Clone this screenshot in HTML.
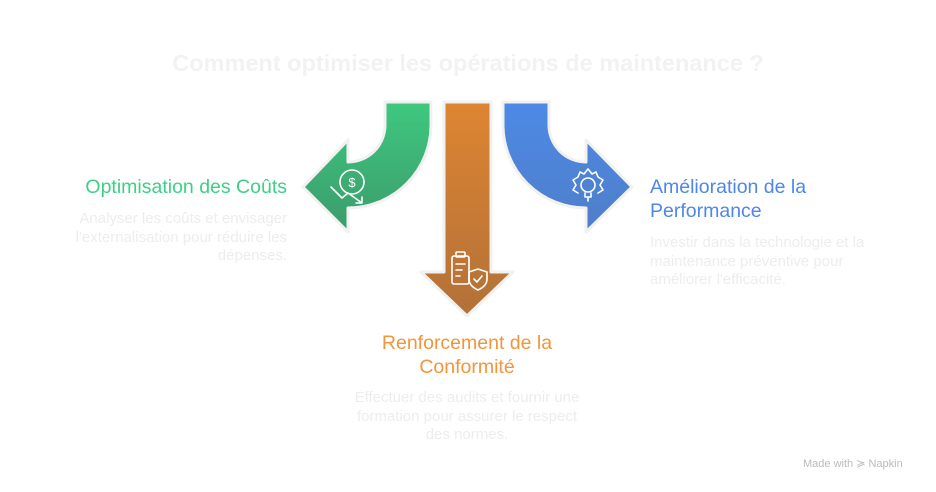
<!DOCTYPE html>
<html><head><meta charset="utf-8"><style>
html,body{margin:0;padding:0;background:#fff;}
body{width:936px;height:492px;position:relative;overflow:hidden;font-family:"Liberation Sans",sans-serif;}
.t{position:absolute;white-space:nowrap;}
.title{left:0;width:936px;top:50px;text-align:center;font-weight:bold;font-size:23.5px;color:#f2f2f2;}
.h{font-size:19.5px;line-height:24px;}
.d{font-size:15px;line-height:18.5px;color:#ededed;}
</style></head><body>
<svg width="936" height="492" style="position:absolute;left:0;top:0">
<defs>
<linearGradient id="g" x1="0" y1="0" x2="0" y2="1"><stop offset="0" stop-color="#3ec87f"/><stop offset="1" stop-color="#3c9b6c"/></linearGradient>
<linearGradient id="o" x1="0" y1="0" x2="0" y2="1"><stop offset="0" stop-color="#de8532"/><stop offset="1" stop-color="#b27138"/></linearGradient>
<linearGradient id="b" x1="0" y1="0" x2="0" y2="1"><stop offset="0" stop-color="#4d8ae6"/><stop offset="1" stop-color="#4e7ec9"/></linearGradient>
</defs>
<g stroke="#f1f1f1" stroke-width="3" stroke-linejoin="round">
<path d="M385,102 L431,102 L431,125 A83,83 0 0 1 348,208 L348,232 L303,187 L348,140 L348,162 A37,37 0 0 0 385,125 Z" fill="url(#g)"/>
<path d="M549,102 L503,102 L503,125 A83,83 0 0 0 586,208 L586,232 L632,187 L586,140 L586,162 A37,37 0 0 1 549,125 Z" fill="url(#b)"/>
<path d="M444,102 L491,102 L491,272 L513,272 L467,316 L421,272 L444,272 Z" fill="url(#o)"/>
</g>
<g fill="none" stroke="#fff" stroke-width="1.6" stroke-linecap="round" stroke-linejoin="round">
<circle cx="352" cy="182" r="12"/>
<text x="352" y="187" fill="#fff" stroke="none" font-size="13" text-anchor="middle" font-family="Liberation Sans">$</text>
<path d="M331,187 L342,198 L348,193 L362,203 M356,203 L362,203 L362,197"/>
<circle cx="588" cy="185" r="7"/>
<path d="M585,193 L585,197 L591,197 L591,193 M588,197 L588,201"/>
<path d="M580,172 L584,174 L588,169 L592,174 L596,172 L598,177 L603,180 L600,185 L603,190 L598,193 M578,193 L573,190 L576,185 L573,180 L578,177 L580,172"/>
<rect x="452" y="256" width="17" height="28" rx="2"/>
<rect x="456" y="252" width="9" height="5" rx="1"/>
<path d="M456,264 L465,264 M456,270 L462,270 M456,276 L460,276"/>
<path d="M469,272 L478,269 L487,272 L487,279 Q487,286 478,290 Q469,286 469,279 Z"/>
<path d="M474,279 L477,282 L482,276"/>
</g>
</svg>
<div class="t title">Comment optimiser les opérations de maintenance ?</div>
<div class="t h" style="right:649px;top:175px;color:#3ecf86">Optimisation des Coûts</div>
<div class="t d" style="right:649px;top:210px;text-align:right">Analyser les coûts et envisager<br>l'externalisation pour réduire les<br>dépenses.</div>
<div class="t h" style="left:650px;top:175px;color:#4d87ea">Amélioration de la<br>Performance</div>
<div class="t d" style="left:650px;top:234px">Investir dans la technologie et la<br>maintenance préventive pour<br>améliorer l'efficacité.</div>
<div class="t h" style="left:267px;width:400px;text-align:center;top:331px;color:#f4943b">Renforcement de la<br>Conformité</div>
<div class="t d" style="left:267px;width:400px;text-align:center;top:389px">Effectuer des audits et fournir une<br>formation pour assurer le respect<br>des normes.</div>
<div class="t" style="left:803px;top:457px;font-size:11px;color:#bbb">Made with ≽ Napkin</div>
</body></html>
